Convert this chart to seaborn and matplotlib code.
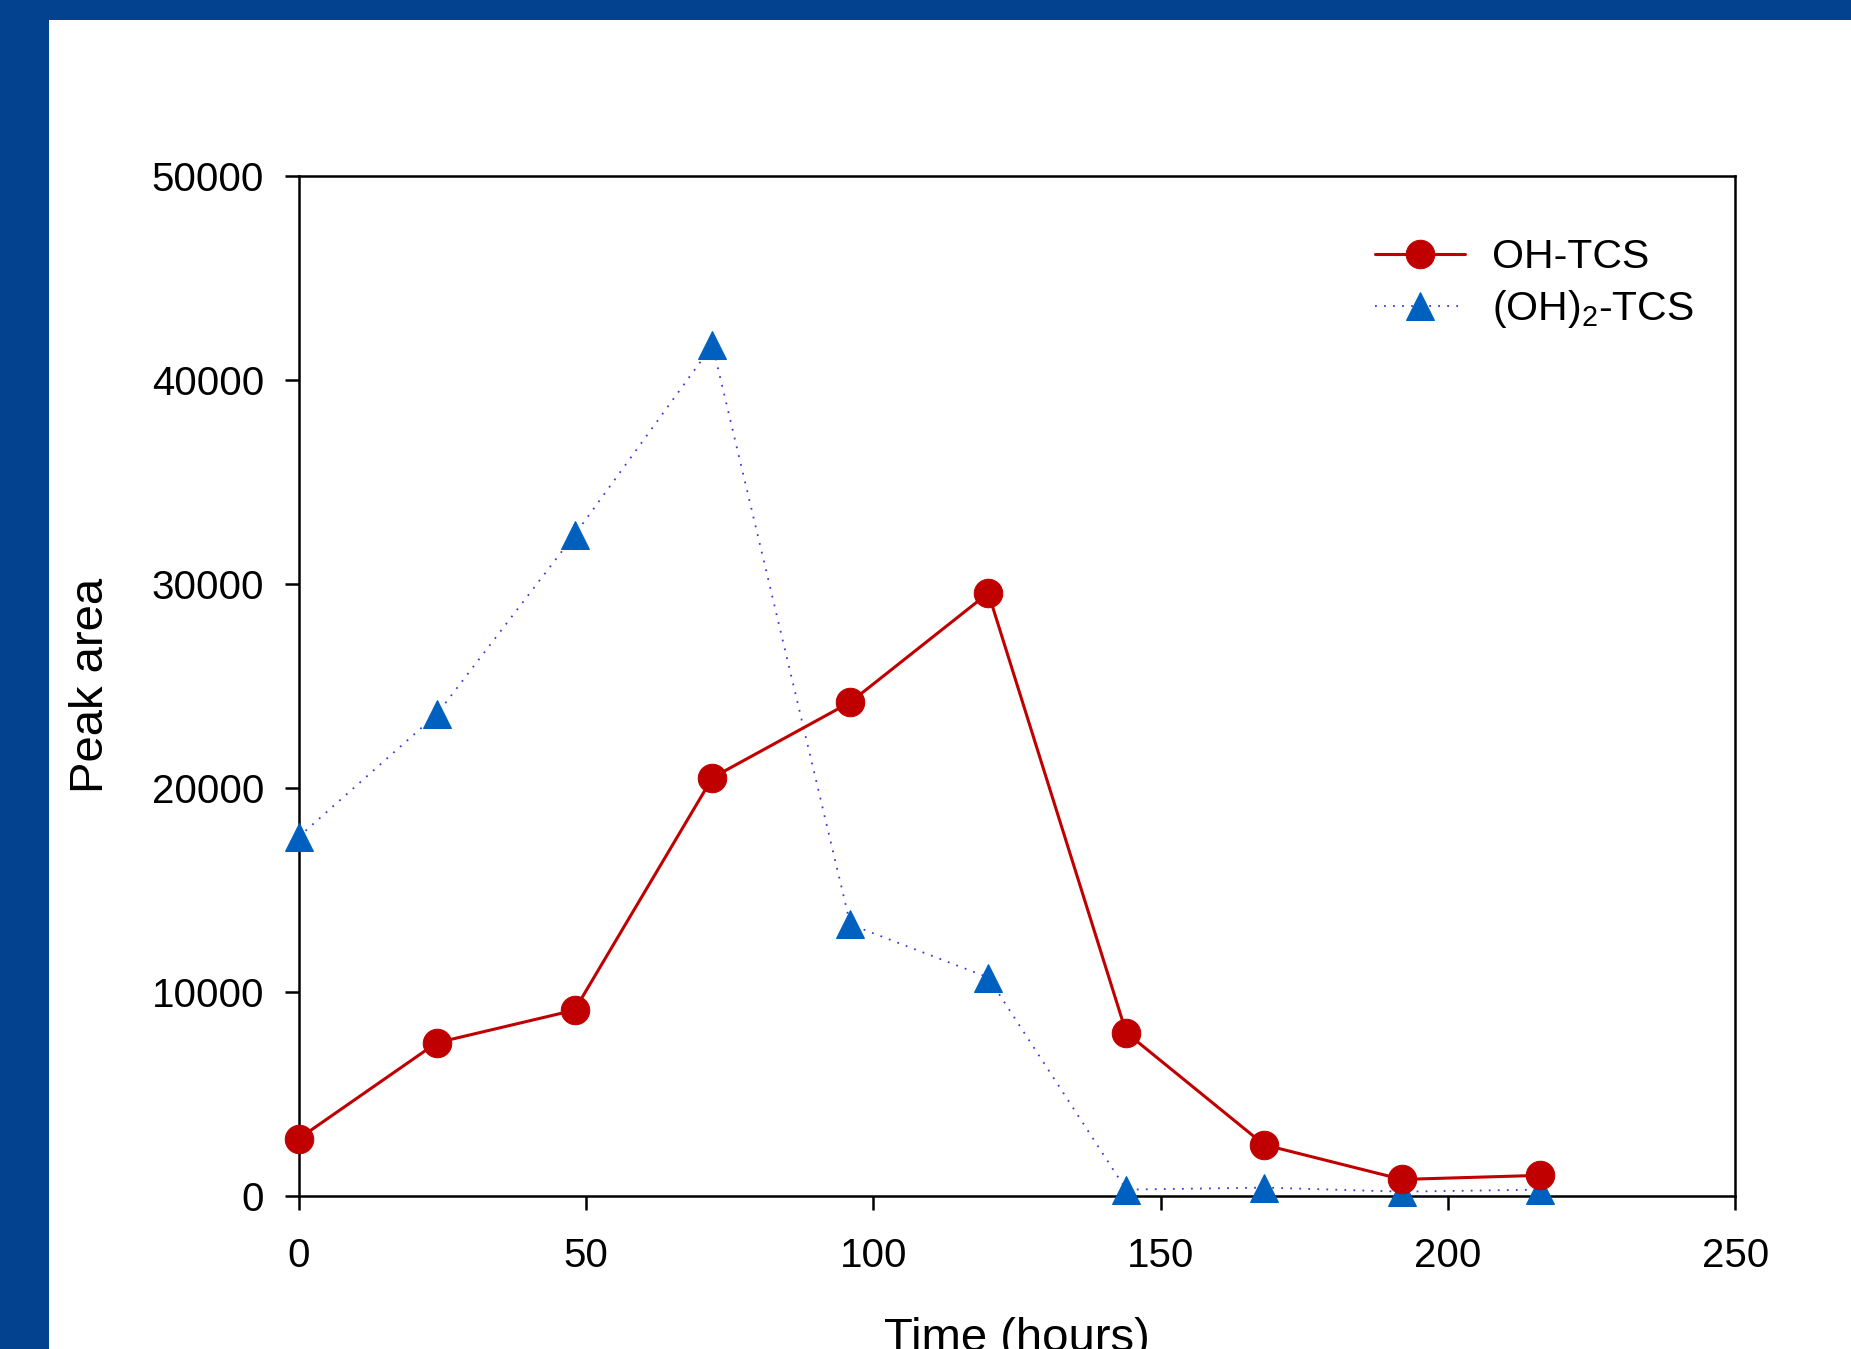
import matplotlib
matplotlib.use('Agg')
import matplotlib.pyplot as plt
from matplotlib.patches import Rectangle
import pandas as pd
import seaborn as sns

hours = [0, 24, 48, 72, 96, 120, 144, 168, 192, 216]
oh_tcs = [2800, 7500, 9100, 20500, 24200, 29550, 8000, 2500, 800, 1000]
oh2_tcs = [17600, 23600, 32400, 41700, 13300, 10700, 300, 400, 200, 300]

df = pd.DataFrame({'hours': hours, 'OH-TCS': oh_tcs, '(OH)2-TCS': oh2_tcs})

sns.set_style('ticks')
plt.rcParams['font.family'] = ['Liberation Sans', 'DejaVu Sans']
plt.rcParams['mathtext.fontset'] = 'custom'
plt.rcParams['mathtext.rm'] = 'Liberation Sans'
plt.rcParams['mathtext.it'] = 'Liberation Sans'
plt.rcParams['text.color'] = 'black'
plt.rcParams['axes.labelcolor'] = 'black'
plt.rcParams['xtick.color'] = 'black'
plt.rcParams['ytick.color'] = 'black'

fig = plt.figure(figsize=(18.51, 13.49), dpi=100)
fig.patch.set_facecolor('white')
border = '#02428F'
fig.patches.append(Rectangle((0, 1 - 20 / 1349), 1, 20 / 1349, transform=fig.transFigure,
                             facecolor=border, edgecolor='none', zorder=0))
fig.patches.append(Rectangle((0, 0), 49 / 1851, 1, transform=fig.transFigure,
                             facecolor=border, edgecolor='none', zorder=0))

ax = fig.add_axes([0.1614, 0.1136, 0.7761, 0.756])

sns.lineplot(data=df, x='hours', y='(OH)2-TCS', ax=ax, color='#3a3ae0', linestyle=(0, (1, 4)),
             linewidth=1.3, marker='^', markersize=20, markerfacecolor='#0060C0',
             markeredgecolor='#0060C0', label='(OH)$_2$-TCS', zorder=3, clip_on=False)
sns.lineplot(data=df, x='hours', y='OH-TCS', ax=ax, color='#C00000', linewidth=2.2,
             marker='o', markersize=20.5, markerfacecolor='#C00000',
             markeredgecolor='#C00000', label='OH-TCS', zorder=4, clip_on=False)

ax.set_xlim(0, 250)
ax.set_ylim(0, 50000)
ax.set_xticks([0, 50, 100, 150, 200, 250])
ax.set_yticks([0, 10000, 20000, 30000, 40000, 50000])
ax.tick_params(axis='both', direction='out', length=10, width=1.8, labelsize=29, pad=15,
               top=False, right=False, colors='black')
ax.tick_params(axis='x', pad=20)
for s in ax.spines.values():
    s.set_visible(True)
    s.set_linewidth(1.8)
    s.set_color('black')

ax.set_xlabel('Time (hours)', fontsize=34, labelpad=30)
ax.set_ylabel('Peak area', fontsize=34, labelpad=28)

handles, labels = ax.get_legend_handles_labels()
leg = ax.legend(handles[::-1], labels[::-1], loc='upper left', bbox_to_anchor=(0.738, 0.955),
                frameon=False, fontsize=29.5, handlelength=2.2, handletextpad=0.65,
                labelspacing=0.3, borderaxespad=0)

fig.savefig('out.png', dpi=100)
